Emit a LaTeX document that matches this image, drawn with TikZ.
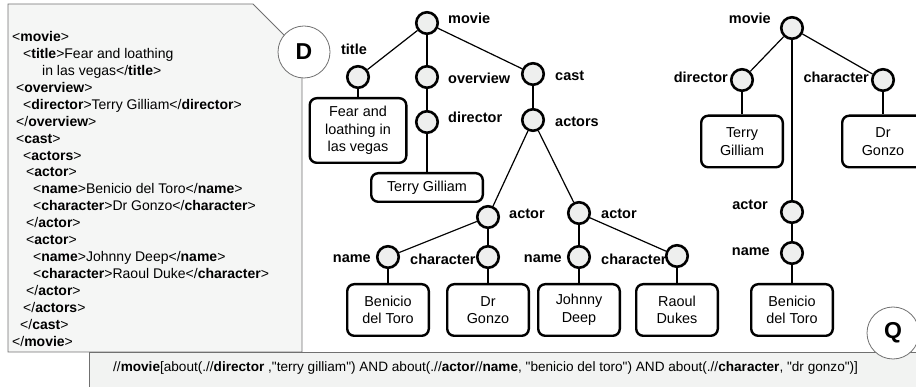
\documentclass[tikz,border=0pt]{standalone}
\usepackage{fontspec}
\setmainfont{Liberation Sans}[Ligatures=TeXOff]
\definecolor{nodefill}{HTML}{EEEFEE}
\definecolor{panelfill}{HTML}{F5F6F5}
\definecolor{queryfill}{HTML}{F2F3F2}
\definecolor{bordergray}{HTML}{707070}
\newcommand\tg[1]{<\textbf{#1}>}
\newcommand\etg[1]{</\textbf{#1}>}
\begin{document}
\begin{tikzpicture}[x=1pt,y=-1pt,
  tn/.style={circle, draw, line width=2.6pt, fill=nodefill, minimum size=21.5pt, inner sep=0pt},
  bx/.style={draw, line width=2.4pt, rounded corners=7pt, fill=white, align=center,
    font=\fontsize{14.4}{17.6}\selectfont, inner sep=0pt},
  lb/.style={font=\fontsize{14.5}{16}\selectfont\bfseries, inner sep=0pt},
  xl/.style={anchor=base west, inner sep=0pt, font=\fontsize{14}{16}\selectfont},
  docc/.style={circle, draw=bordergray, line width=0.8pt, fill=white, minimum size=52pt,
    inner sep=0pt, font=\fontsize{23}{24}\selectfont\bfseries},
  edge/.style={line width=1.2pt}]
\useasboundingbox (0,0) rectangle (916,387);
% document panel
\path[draw=bordergray, fill=panelfill, line width=0.8pt]
  (8,4) -- (253,4) -- (302,53) -- (302,352) -- (8,352) -- cycle;
% query box
\fill[queryfill] (89,352) rectangle (930,400);
\draw[bordergray, line width=0.8pt] (89,400) -- (89,352) -- (930,352);
\node[docc] (D) at (304,52) {D};
\node[docc] (Q) at (893,333) {Q};
% XML text
\node[xl] (x1) at (12,41.5) {\tg{movie}};
\node[xl] (x2) at (23,58.4) {\tg{title}Fear and loathing};
\node[xl] (x3) at (42,75.4) {in las vegas\etg{title}};
\node[xl] (x4) at (16,92.3) {\tg{overview}};
\node[xl] (x5) at (23,109.3) {\tg{director}Terry Gilliam\etg{director}};
\node[xl] (x6) at (16,126.2) {\etg{overview}};
\node[xl] (x7) at (16,143.1) {\tg{cast}};
\node[xl] (x8) at (23,160.1) {\tg{actors}};
\node[xl] (x9) at (26,177.0) {\tg{actor}};
\node[xl] (x10) at (33,194.0) {\tg{name}Benicio del Toro\etg{name}};
\node[xl] (x11) at (33,210.9) {\tg{character}Dr Gonzo\etg{character}};
\node[xl] (x12) at (26,227.8) {\etg{actor}};
\node[xl] (x13) at (26,244.8) {\tg{actor}};
\node[xl] (x14) at (33,261.7) {\tg{name}Johnny Deep\etg{name}};
\node[xl] (x15) at (33,278.7) {\tg{character}Raoul Duke\etg{character}};
\node[xl] (x16) at (26,295.6) {\etg{actor}};
\node[xl] (x17) at (23,312.5) {\etg{actors}};
\node[xl] (x18) at (20,329.5) {\etg{cast}};
\node[xl] (x19) at (12,346.4) {\etg{movie}};
% query text
\node[anchor=west, inner sep=0pt, font=\fontsize{13.6}{16}\selectfont] (qt) at (113,368)
  {//\textbf{movie}[about(.//\textbf{director} ,"terry gilliam") AND about(.//\textbf{actor}//\textbf{name}, "benicio del toro") AND about(.//\textbf{character}, "dr gonzo")]};
% middle tree
\node[tn] (m1) at (427,23) {};
\node[tn] (t1) at (358,77) {};
\node[tn] (o1) at (427,77) {};
\node[tn] (c1) at (533,74) {};
\node[tn] (d1) at (427,122) {};
\node[tn] (as1) at (533,120) {};
\node[tn] (a1) at (488,217) {};
\node[tn] (a2) at (579,213) {};
\node[tn] (n1) at (388,257) {};
\node[tn] (ch1) at (488,257) {};
\node[tn] (n2) at (579,257) {};
\node[tn] (ch2) at (677,256) {};
\node[bx, minimum width=96.6pt, minimum height=64.6pt] (fb) at (358,130.5) {Fear and\\loathing in\\las vegas};
\node[bx, minimum width=111.6pt, minimum height=28.6pt] (tgb) at (427,187.5) {Terry Gilliam};
\node[bx, minimum width=81.6pt, minimum height=51.6pt] (b1) at (388,310) {Benicio\\del Toro};
\node[bx, minimum width=81.6pt, minimum height=51.6pt] (b2) at (488,310) {Dr\\Gonzo};
\node[bx, minimum width=81.6pt, minimum height=51.6pt] (b3) at (579,310) {Johnny\\Deep};
\node[bx, minimum width=81.6pt, minimum height=51.6pt] (b4) at (677,310) {Raoul\\Dukes};
\node[lb, anchor=west] (lm1) at (448,18) {movie};
\node[lb] (lt1) at (354,49) {title};
\node[lb, anchor=west] (lo1) at (448,78) {overview};
\node[lb, anchor=west] (lc1) at (555,76) {cast};
\node[lb, anchor=west] (ld1) at (448,117) {director};
\node[lb, anchor=west] (las1) at (555,122) {actors};
\node[lb, anchor=west] (la1) at (509,214) {actor};
\node[lb, anchor=west] (la2) at (601,214) {actor};
\node[lb, anchor=east] (ln1) at (371,259) {name};
\node[lb, anchor=west] (lch1) at (410,259) {character};
\node[lb, anchor=east] (ln2) at (562,259) {name};
\node[lb, anchor=west] (lch2) at (601,259) {character};
\draw[edge] (m1) -- (t1);
\draw[edge] (m1) -- (o1);
\draw[edge] (m1) -- (c1);
\draw[edge] (o1) -- (d1);
\draw[edge] (d1) -- (tgb);
\draw[edge] (t1) -- (fb);
\draw[edge] (c1) -- (as1);
\draw[edge] (as1) -- (a1);
\draw[edge] (as1) -- (a2);
\draw[edge] (a1) -- (n1);
\draw[edge] (a1) -- (ch1);
\draw[edge] (a2) -- (n2);
\draw[edge] (a2) -- (ch2);
\draw[edge] (n1) -- (b1);
\draw[edge] (ch1) -- (b2);
\draw[edge] (n2) -- (b3);
\draw[edge] (ch2) -- (b4);
% right tree
\node[tn] (m2) at (792,28) {};
\node[tn] (d2) at (742,80) {};
\node[tn] (ch3) at (883,80) {};
\node[tn] (a3) at (792,212) {};
\node[tn] (n3) at (792,253) {};
\node[bx, minimum width=81.6pt, minimum height=51.6pt] (rb1) at (742,141.5) {Terry\\Gilliam};
\node[bx, minimum width=81.6pt, minimum height=51.6pt] (rb2) at (883,141.5) {Dr\\Gonzo};
\node[bx, minimum width=81.6pt, minimum height=51.6pt] (rb3) at (792,310) {Benicio\\del Toro};
\node[lb, anchor=east] (lm2) at (771,18) {movie};
\node[lb, anchor=east] (ld2) at (728,77) {director};
\node[lb, anchor=east] (lch3) at (869,77) {character};
\node[lb, anchor=east] (la3) at (768,205) {actor};
\node[lb, anchor=east] (ln3) at (770,252) {name};
\draw[edge] (m2) -- (d2);
\draw[edge] (m2) -- (ch3);
\draw[edge] (m2) -- (a3);
\draw[edge] (a3) -- (n3);
\draw[edge] (d2) -- (rb1);
\draw[edge] (ch3) -- (rb2);
\draw[edge] (n3) -- (rb3);
\end{tikzpicture}
\end{document}
